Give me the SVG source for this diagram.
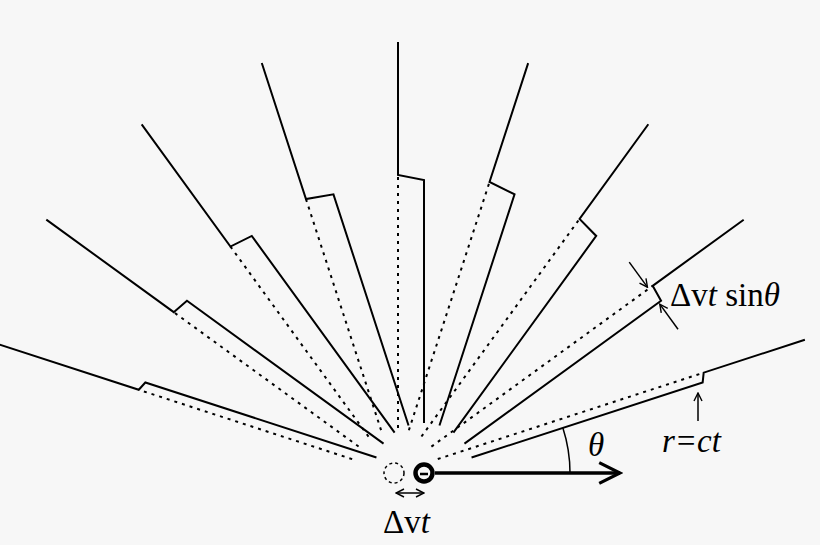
<svg xmlns="http://www.w3.org/2000/svg" width="820" height="545" viewBox="0 0 820 545">
<style>
.s{stroke:#000;stroke-width:2;fill:none}
.d{stroke:#000;stroke-width:2;fill:none;stroke-dasharray:3 5}
.t{font-family:"Liberation Serif","DejaVu Serif",serif;font-size:33px;fill:#000}
.a{stroke:#000;stroke-width:1.5;fill:none}
</style>
<defs>
<marker id="ah" viewBox="0 0 10 10" refX="9" refY="5" markerWidth="10" markerHeight="10" orient="auto-start-reverse" markerUnits="userSpaceOnUse"><path d="M1,1 L9,5 L1,9" fill="none" stroke="#000" stroke-width="1.4"/></marker>
<marker id="big" viewBox="0 0 20 20" refX="18" refY="10" markerWidth="26" markerHeight="26" orient="auto" markerUnits="userSpaceOnUse"><path d="M2,2 L18,10 L2,18" fill="none" stroke="#000" stroke-width="2.5"/></marker>
</defs>
<rect width="820" height="545" fill="#f7f7f7"/>
<g id="connectors">
<g transform="translate(424 473) rotate(-18)"><path class="s" d="M50,0H293L297,-9H403.4"/><path class="d" d="M17.4,-9H297"/></g>
<g transform="translate(424 473) rotate(-36)"><path class="s" d="M50,0H293L295,-17H407.5"/><path class="d" d="M21.5,-17H295"/>
<path class="a" marker-end="url(#ah)" d="M290,-50V-19"/><path class="a" marker-end="url(#ah)" d="M290,33V2"/></g>
<g transform="translate(424 473) rotate(-54)"><path class="s" d="M50,0H293L297,-23.5H414"/><path class="d" d="M28,-23.5H297"/></g>
<g transform="translate(424 473) rotate(-72)"><path class="s" d="M50,0H293L297,-27.6H422"/><path class="d" d="M36,-27.6H297"/></g>
<g transform="translate(424 473) rotate(-90)"><path class="s" d="M50,0H293L298,-26H431"/><path class="d" d="M45,-26H298"/></g>
<g transform="translate(424 473) rotate(-108)"><path class="s" d="M50,0H293L297,-27.6H440"/><path class="d" d="M54,-27.6H297"/></g>
<g transform="translate(424 473) rotate(-126)"><path class="s" d="M50,0H293L297,-23.5H448"/><path class="d" d="M62,-23.5H297"/></g>
<g transform="translate(424 473) rotate(-144)"><path class="s" d="M50,0H293L297,-17H454.5"/><path class="d" d="M68.5,-17H297"/></g>
<g transform="translate(424 473) rotate(-162)"><path class="s" d="M50,0H293L297,-9H458.6"/><path class="d" d="M72.6,-9H297"/></g>
<path class="a" marker-end="url(#ah)" d="M698,421V393"/>
<path class="a" marker-start="url(#ah)" marker-end="url(#ah)" d="M396,493H424"/>
<path d="M570,473 A146,146 0 0 0 562.9,427.9" fill="none" stroke="#000" stroke-width="1.5"/>
<path d="M435,473H620" stroke="#000" stroke-width="3.5" fill="none" marker-end="url(#big)"/>
</g>
<g id="charge"><circle cx="424" cy="473" r="8.5" fill="none" stroke="#000" stroke-width="4.5"/><path d="M420,474H428" stroke="#000" stroke-width="2.5"/></g>
<g id="old"><circle cx="394" cy="473" r="10" fill="none" stroke="#000" stroke-width="1.5" stroke-dasharray="3 3"/></g>
<g id="labels">
<text class="t" x="383" y="533">Δv<tspan font-style="italic">t</tspan></text>
<text class="t" x="588" y="456" font-style="italic">θ</text>
<text class="t" x="670" y="306">Δv<tspan font-style="italic">t</tspan> sin<tspan font-style="italic">θ</tspan></text>
<text class="t" x="662" y="452" font-style="italic">r=ct</text>
</g>
</svg>
